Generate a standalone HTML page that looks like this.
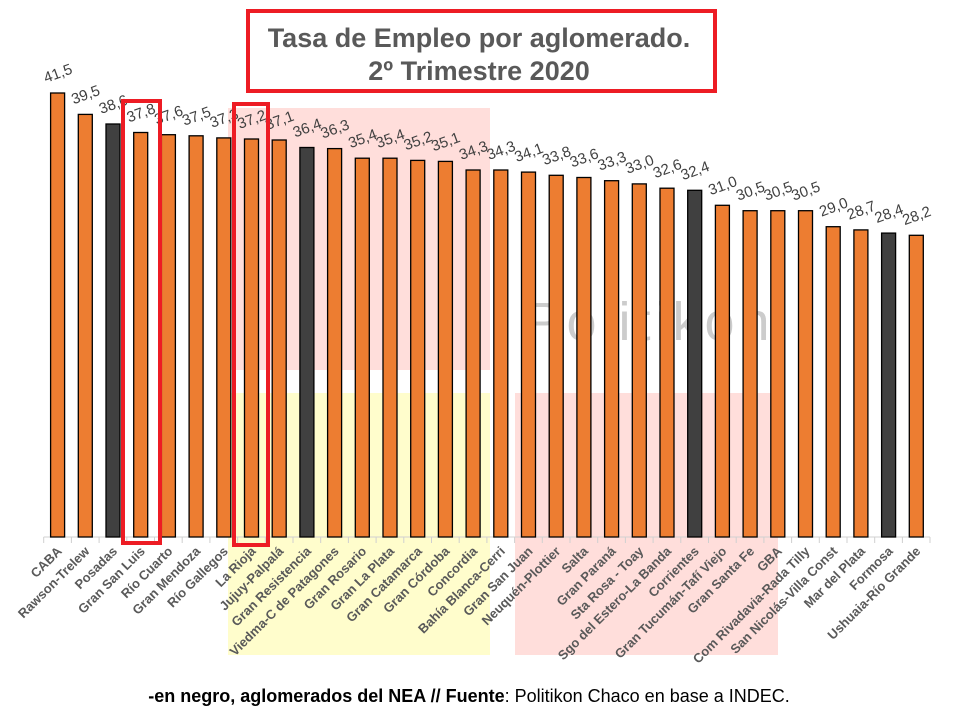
<!DOCTYPE html>
<html><head><meta charset="utf-8"><style>
html,body{margin:0;padding:0;background:#fff;}
svg{display:block;font-family:"Liberation Sans",sans-serif;}
.v{font-size:15px;fill:#404040;text-anchor:middle;}
.c{font-size:13px;font-weight:bold;fill:#595959;text-anchor:end;}
.o{fill:#ED7D31;stroke:#000;stroke-width:1.3;}
.k{fill:#404040;stroke:#000;stroke-width:1.3;}
</style></head><body>
<svg width="960" height="720" viewBox="0 0 960 720">
<rect x="228" y="108" width="262" height="262" fill="#FFDEDB"/>
<rect x="228" y="393" width="262" height="262" fill="#FFFDCC"/>
<rect x="515" y="393" width="263" height="262" fill="#FFDEDB"/>
<text x="650" y="340" font-size="54" fill="#cccccc" text-anchor="middle" letter-spacing="5">Politikon</text>
<line x1="43.7" y1="537" x2="930" y2="537" stroke="#d0d0d0" stroke-width="1"/>
<g stroke="#d0d0d0" stroke-width="1">
<path d="M43.7 537v6M71.4 537v6M99.1 537v6M126.8 537v6M154.5 537v6M182.2 537v6M209.9 537v6M237.6 537v6M265.3 537v6M293 537v6M320.7 537v6M348.4 537v6M376.1 537v6M403.8 537v6M431.5 537v6M459.2 537v6M486.9 537v6M514.6 537v6M542.3 537v6M570 537v6M597.7 537v6M625.4 537v6M653.1 537v6M680.8 537v6M708.5 537v6M736.2 537v6M763.9 537v6M791.6 537v6M819.3 537v6M847 537v6M874.7 537v6M902.4 537v6M930 537v6"/>
</g>
<g transform="translate(57.6,0)"><rect class="o" x="-7" y="93.0" width="14" height="444"/><text class="v" transform="translate(2,78) rotate(-20)">41,5</text><text class="c" transform="translate(5,552) rotate(-45)">CABA</text></g>
<g transform="translate(85.3,0)"><rect class="o" x="-7" y="114.4" width="14" height="422.6"/><text class="v" transform="translate(2,99.4) rotate(-20)">39,5</text><text class="c" transform="translate(5,552) rotate(-45)">Rawson-Trelew</text></g>
<g transform="translate(113,0)"><rect class="k" x="-7" y="124" width="14" height="413"/><text class="v" transform="translate(2,109) rotate(-20)">38,6</text><text class="c" transform="translate(5,552) rotate(-45)">Posadas</text></g>
<g transform="translate(140.7,0)"><rect class="o" x="-7" y="132.5" width="14" height="404.5"/><text class="v" transform="translate(2,117.5) rotate(-20)">37,8</text><text class="c" transform="translate(5,552) rotate(-45)">Gran San Luis</text></g>
<g transform="translate(168.4,0)"><rect class="o" x="-7" y="134.7" width="14" height="402.3"/><text class="v" transform="translate(2,119.7) rotate(-20)">37,6</text><text class="c" transform="translate(5,552) rotate(-45)">Río Cuarto</text></g>
<g transform="translate(196.1,0)"><rect class="o" x="-7" y="135.8" width="14" height="401.2"/><text class="v" transform="translate(2,120.8) rotate(-20)">37,5</text><text class="c" transform="translate(5,552) rotate(-45)">Gran Mendoza</text></g>
<g transform="translate(223.8,0)"><rect class="o" x="-7" y="137.9" width="14" height="399.1"/><text class="v" transform="translate(2,122.9) rotate(-20)">37,3</text><text class="c" transform="translate(5,552) rotate(-45)">Río Gallegos</text></g>
<g transform="translate(251.5,0)"><rect class="o" x="-7" y="139" width="14" height="398"/><text class="v" transform="translate(2,124) rotate(-20)">37,2</text><text class="c" transform="translate(5,552) rotate(-45)">La Rioja</text></g>
<g transform="translate(279.2,0)"><rect class="o" x="-7" y="140" width="14" height="397"/><text class="v" transform="translate(2,125) rotate(-20)">37,1</text><text class="c" transform="translate(5,552) rotate(-45)">Jujuy-Palpalá</text></g>
<g transform="translate(306.9,0)"><rect class="k" x="-7" y="147.5" width="14" height="389.5"/><text class="v" transform="translate(2,132.5) rotate(-20)">36,4</text><text class="c" transform="translate(5,552) rotate(-45)">Gran Resistencia</text></g>
<g transform="translate(334.6,0)"><rect class="o" x="-7" y="148.6" width="14" height="388.4"/><text class="v" transform="translate(2,133.6) rotate(-20)">36,3</text><text class="c" transform="translate(5,552) rotate(-45)">Viedma-C de Patagones</text></g>
<g transform="translate(362.3,0)"><rect class="o" x="-7" y="158.2" width="14" height="378.8"/><text class="v" transform="translate(2,143.2) rotate(-20)">35,4</text><text class="c" transform="translate(5,552) rotate(-45)">Gran Rosario</text></g>
<g transform="translate(390,0)"><rect class="o" x="-7" y="158.2" width="14" height="378.8"/><text class="v" transform="translate(2,143.2) rotate(-20)">35,4</text><text class="c" transform="translate(5,552) rotate(-45)">Gran La Plata</text></g>
<g transform="translate(417.7,0)"><rect class="o" x="-7" y="160.4" width="14" height="376.6"/><text class="v" transform="translate(2,145.4) rotate(-20)">35,2</text><text class="c" transform="translate(5,552) rotate(-45)">Gran Catamarca</text></g>
<g transform="translate(445.4,0)"><rect class="o" x="-7" y="161.4" width="14" height="375.6"/><text class="v" transform="translate(2,146.4) rotate(-20)">35,1</text><text class="c" transform="translate(5,552) rotate(-45)">Gran Córdoba</text></g>
<g transform="translate(473.1,0)"><rect class="o" x="-7" y="170" width="14" height="367"/><text class="v" transform="translate(2,155) rotate(-20)">34,3</text><text class="c" transform="translate(5,552) rotate(-45)">Concordia</text></g>
<g transform="translate(500.8,0)"><rect class="o" x="-7" y="170" width="14" height="367"/><text class="v" transform="translate(2,155) rotate(-20)">34,3</text><text class="c" transform="translate(5,552) rotate(-45)">Bahía Blanca-Cerri</text></g>
<g transform="translate(528.5,0)"><rect class="o" x="-7" y="172.1" width="14" height="364.9"/><text class="v" transform="translate(2,157.1) rotate(-20)">34,1</text><text class="c" transform="translate(5,552) rotate(-45)">Gran San Juan</text></g>
<g transform="translate(556.2,0)"><rect class="o" x="-7" y="175.3" width="14" height="361.7"/><text class="v" transform="translate(2,160.3) rotate(-20)">33,8</text><text class="c" transform="translate(5,552) rotate(-45)">Neuquén-Plottier</text></g>
<g transform="translate(583.9,0)"><rect class="o" x="-7" y="177.5" width="14" height="359.5"/><text class="v" transform="translate(2,162.5) rotate(-20)">33,6</text><text class="c" transform="translate(5,552) rotate(-45)">Salta</text></g>
<g transform="translate(611.6,0)"><rect class="o" x="-7" y="180.7" width="14" height="356.3"/><text class="v" transform="translate(2,165.7) rotate(-20)">33,3</text><text class="c" transform="translate(5,552) rotate(-45)">Gran Paraná</text></g>
<g transform="translate(639.3,0)"><rect class="o" x="-7" y="183.9" width="14" height="353.1"/><text class="v" transform="translate(2,168.9) rotate(-20)">33,0</text><text class="c" transform="translate(5,552) rotate(-45)">Sta Rosa - Toay</text></g>
<g transform="translate(667,0)"><rect class="o" x="-7" y="188.2" width="14" height="348.8"/><text class="v" transform="translate(2,173.2) rotate(-20)">32,6</text><text class="c" transform="translate(5,552) rotate(-45)">Sgo del Estero-La Banda</text></g>
<g transform="translate(694.7,0)"><rect class="k" x="-7" y="190.3" width="14" height="346.7"/><text class="v" transform="translate(2,175.3) rotate(-20)">32,4</text><text class="c" transform="translate(5,552) rotate(-45)">Corrientes</text></g>
<g transform="translate(722.4,0)"><rect class="o" x="-7" y="205.3" width="14" height="331.7"/><text class="v" transform="translate(2,190.3) rotate(-20)">31,0</text><text class="c" transform="translate(5,552) rotate(-45)">Gran Tucumán-Tafí Viejo</text></g>
<g transform="translate(750.1,0)"><rect class="o" x="-7" y="210.7" width="14" height="326.3"/><text class="v" transform="translate(2,195.7) rotate(-20)">30,5</text><text class="c" transform="translate(5,552) rotate(-45)">Gran Santa Fe</text></g>
<g transform="translate(777.8,0)"><rect class="o" x="-7" y="210.7" width="14" height="326.3"/><text class="v" transform="translate(2,195.7) rotate(-20)">30,5</text><text class="c" transform="translate(5,552) rotate(-45)">GBA</text></g>
<g transform="translate(805.5,0)"><rect class="o" x="-7" y="210.7" width="14" height="326.3"/><text class="v" transform="translate(2,195.7) rotate(-20)">30,5</text><text class="c" transform="translate(5,552) rotate(-45)">Com Rivadavia-Rada Tilly</text></g>
<g transform="translate(833.2,0)"><rect class="o" x="-7" y="226.7" width="14" height="310.3"/><text class="v" transform="translate(2,211.7) rotate(-20)">29,0</text><text class="c" transform="translate(5,552) rotate(-45)">San Nicolás-Villa Const</text></g>
<g transform="translate(860.9,0)"><rect class="o" x="-7" y="229.9" width="14" height="307.1"/><text class="v" transform="translate(2,214.9) rotate(-20)">28,7</text><text class="c" transform="translate(5,552) rotate(-45)">Mar del Plata</text></g>
<g transform="translate(888.6,0)"><rect class="k" x="-7" y="233.1" width="14" height="303.9"/><text class="v" transform="translate(2,218.1) rotate(-20)">28,4</text><text class="c" transform="translate(5,552) rotate(-45)">Formosa</text></g>
<g transform="translate(916.3,0)"><rect class="o" x="-7" y="235.3" width="14" height="301.7"/><text class="v" transform="translate(2,220.3) rotate(-20)">28,2</text><text class="c" transform="translate(5,552) rotate(-45)">Ushuaia-Río Grande</text></g>
<rect x="123" y="101" width="37" height="442" fill="none" stroke="#ED1C24" stroke-width="4"/>
<rect x="234" y="104" width="34" height="441" fill="none" stroke="#ED1C24" stroke-width="4"/>
<rect x="248" y="11" width="467" height="80" fill="#fff" stroke="#ED1C24" stroke-width="4"/>
<text x="479" y="47" font-size="27" font-weight="bold" fill="#595959" text-anchor="middle">Tasa de Empleo por aglomerado.</text>
<text x="479" y="80" font-size="27" font-weight="bold" fill="#595959" text-anchor="middle">2º Trimestre 2020</text>
<text x="469" y="702" font-size="18" fill="#000" text-anchor="middle"><tspan font-weight="bold">-en negro, aglomerados del NEA // Fuente</tspan>: Politikon Chaco en base a INDEC.</text>
</svg>
</body></html>
